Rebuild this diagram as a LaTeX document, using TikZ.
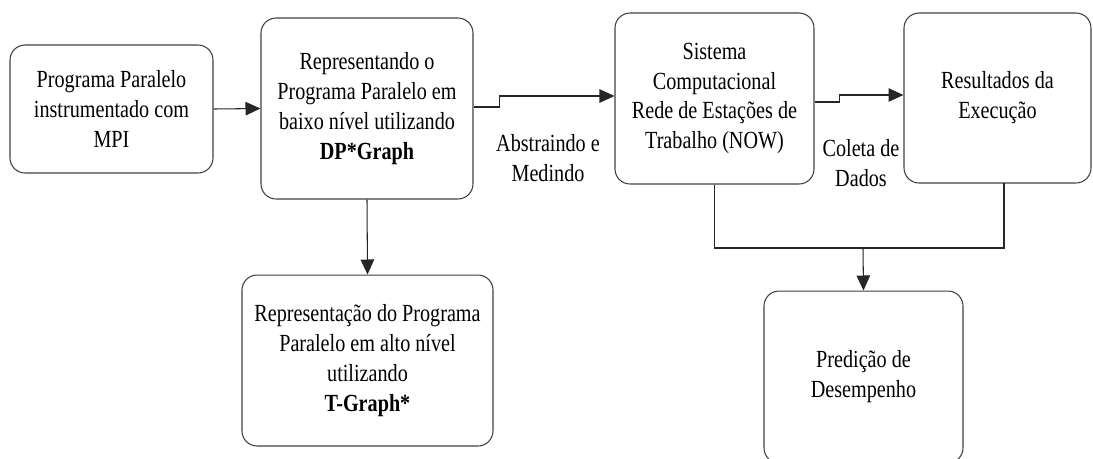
\documentclass[tikz,border=0pt]{standalone}
\usepackage{fontspec}
\setmainfont{Liberation Serif}[FakeStretch=0.82]
\usepackage{tikz}
\usetikzlibrary{arrows.meta}

\begin{document}
\begin{tikzpicture}[x=0.02cm, y=-0.02cm,
        caixa/.style={draw=black!75, line width=0.6pt, rounded corners=0.3cm, align=center, inner sep=0pt, font=\fontsize{14pt}{17pt}\selectfont},
        rotulo/.style={align=center, inner sep=0pt, font=\fontsize{14pt}{17pt}\selectfont},
        seta/.style={draw=black!85, line width=0.6pt, -{Triangle[length=0.3cm,width=0.27cm]}},
        linha/.style={draw=black!85, line width=0.6pt}]
        \useasboundingbox (0,0) rectangle (1093,458);
        \node[caixa, minimum width=4.06cm, minimum height=2.56cm] (prog) at (111.5,109) {Programa Paralelo\\instrumentado com\\MPI};
        \node[caixa, minimum width=4.24cm, minimum height=3.62cm] (repr) at (367,108.5) {Representando o\\Programa Paralelo em\\baixo nível utilizando\\\textbf{DP*Graph}};
        \node[caixa, minimum width=3.98cm, minimum height=3.42cm] (sist) at (714.5,98.5) {Sistema\\Computacional\\Rede de Estações de\\Trabalho (NOW)};
        \node[caixa, minimum width=3.74cm, minimum height=3.40cm] (res) at (997.5,98) {Resultados da\\Execução};
        \node[caixa, minimum width=5.02cm, minimum height=3.42cm] (alto) at (367.5,360.5) {Representação do Programa\\Paralelo em alto nível\\utilizando\\\textbf{T-Graph*}};
        \node[caixa, minimum width=3.98cm, minimum height=3.44cm] (pred) at (863.5,377) {Predição de\\Desempenho};
        \node[rotulo] (abst) at (548,158) {Abstraindo e\\Medindo};
        \node[rotulo] (colet) at (861,163) {Coleta de\\Dados};
        \coordinate (pe) at (1004,183);
        \coordinate (juncao) at (863,248);
        \draw[seta] (prog.east) -- (repr.west);
        \draw[seta] ([yshift=0.03cm]repr.east) -- ++(26,0) |- ([yshift=0.05cm]sist.west);
        \draw[seta] ([yshift=-0.07cm]sist.east) -- ++(25,0) |- ([yshift=0.06cm]res.west);
        \draw[seta] (repr.south) -- (alto.north);
        \draw[linha] (sist.south) |- (juncao) -| (pe);
        \draw[seta] (juncao) -- (pred.north);
    \end{tikzpicture}
\end{document}
